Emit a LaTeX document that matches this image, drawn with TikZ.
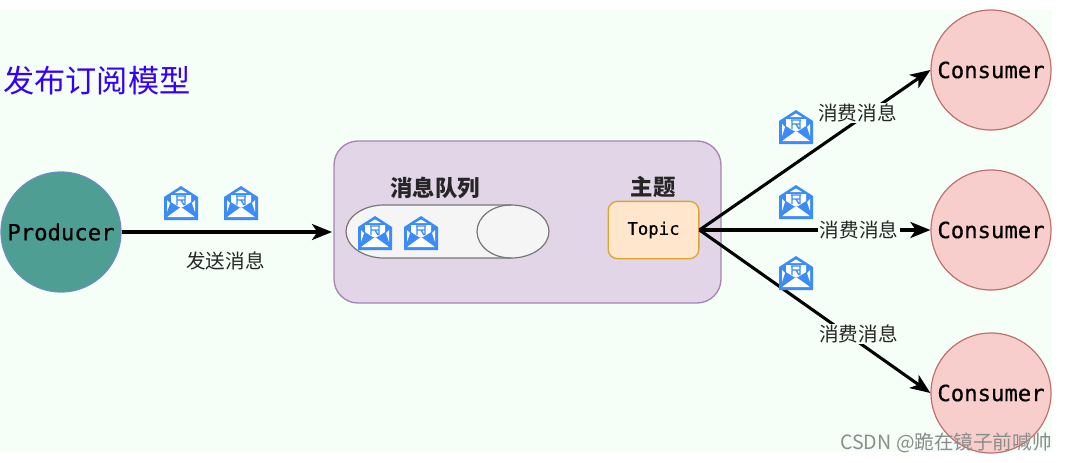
\documentclass[tikz,border=0pt]{standalone}
\usepackage{fontspec}
\setmainfont{Noto Sans CJK SC}
\newfontfamily\monof[FakeBold=0.5]{DejaVu Sans Mono}
\usetikzlibrary{arrows.meta}
\definecolor{bgc}{HTML}{F5FFF8}
\definecolor{prodfill}{HTML}{4F9E94}
\definecolor{prodline}{HTML}{6C8EBF}
\definecolor{consfill}{HTML}{F8CECC}
\definecolor{consline}{HTML}{C0716C}
\definecolor{boxfill}{HTML}{E1D5E7}
\definecolor{boxline}{HTML}{A784B5}
\definecolor{pillfill}{HTML}{F5F5F5}
\definecolor{pillline}{HTML}{777777}
\definecolor{topicfill}{HTML}{FFE6CC}
\definecolor{topicline}{HTML}{DDA52F}
\definecolor{iconc}{HTML}{3B8CF8}
\definecolor{titlec}{HTML}{3300FF}
\tikzset{
  x=0.75pt,y=-0.75pt,
  actor/.style={circle,minimum size=90pt,inner sep=0pt,line width=0.9pt,font=\monof\fontsize{16.7pt}{18pt}\selectfont},
  producer/.style={actor,fill=prodfill,draw=prodline},
  consumer/.style={actor,fill=consfill,draw=consline},
  flow/.style={line width=2.3pt,black,-{Stealth[length=15pt,width=12pt,inset=4pt]}},
  lbl/.style={font=\fontsize{14.7pt}{16pt}\selectfont,text=black!85,inner sep=1pt},
  edgelbl/.style={lbl,fill=bgc},
  head/.style={font=\fontsize{16.8pt}{18pt}\selectfont\bfseries,text=black!85,inner sep=0pt},
  msg/.pic={
    \fill[iconc] (0,-17) -- (17,-6) -- (17,17) -- (-17,17) -- (-17,-6) -- cycle;
    \fill[white] (-14,14) -- (0,4) -- (14,14) -- cycle;
    \fill[white] (-10,-8) -- (10,-8) -- (10,-1) -- (2,4) -- (-2,4) -- (-10,-1) -- cycle;
    \fill[white] (0,-13.5) -- (6,-10) -- (-6,-10) -- cycle;
    \fill[white] (-14,-3) -- (-11,0) -- (-14,9) -- cycle;
    \fill[white] (14,-3) -- (11,0) -- (14,9) -- cycle;
    \draw[iconc,line width=1pt] (-5,-7) -- (5,-7) (-4,-7) -- (-4,2) (4,-7) -- (4,2) (-4,-3) -- (3,-3) (0,-3) -- (3,2);
    \draw[iconc,line width=1.8pt] (-16,15) -- (-7,2) (16,15) -- (7,2);
  }
}
\begin{document}
\begin{tikzpicture}
\useasboundingbox (0,0) rectangle (1066,462);
\fill[white] (0,0) rectangle (1066,462);
\fill[bgc] (0,10) rectangle (1052,452);
% title
\node[anchor=west,inner sep=0pt,text=titlec,font=\fontsize{23.4pt}{25pt}\selectfont] (title) at (3,81) {发布订阅模型};
% main container
\draw[fill=boxfill,draw=boxline,line width=1pt,rounded corners=18pt] (334,141) rectangle (721,303);
\coordinate (queuewest) at (332,232);
% pill
\draw[fill=pillfill,draw=pillline,line width=0.9pt] (384,205) -- (511,205) .. controls (532,205) and (549,217) .. (549,231.5) .. controls (549,246) and (532,258) .. (511,258) -- (384,258) .. controls (363,258) and (346,246) .. (346,231.5) .. controls (346,217) and (363,205) .. (384,205) -- cycle;
\draw[draw=pillline,line width=0.9pt] (511,205) .. controls (492,205) and (477,217) .. (477,231.5) .. controls (477,246) and (492,258) .. (511,258);
\node[head] (qhead) at (435,188) {消息队列};
\node[head] (thead) at (653,187) {主题};
\node[draw=topicline,fill=topicfill,line width=1pt,rounded corners=7pt,minimum width=68pt,minimum height=43pt,inner sep=0pt,font=\monof\fontsize{13pt}{14pt}\selectfont] (topic) at (653.5,230) {Topic};
% actors
\node[producer] (prod) at (61,232) {Producer};
\node[consumer] (c1) at (991,70) {Consumer};
\node[consumer] (c2) at (991,230) {Consumer};
\node[consumer] (c3) at (991,393) {Consumer};
% connectors
\draw[flow] (prod) -- (queuewest);
\draw[flow] (topic.east) -- (c1.west);
\draw[flow] (topic.east) -- (c2.west);
\draw[flow] (topic.east) -- (c3.west);
\node[edgelbl] (l1) at (857.5,113) {消费消息};
\node[edgelbl] (l2) at (859,230) {消费消息};
\node[edgelbl] (l3) at (858.5,334) {消费消息};
\node[lbl] (send) at (225.5,261) {发送消息};
% icons
\pic at (181,203) {msg};
\pic at (241,203) {msg};
\pic at (375,233) {msg};
\pic at (421,233) {msg};
\pic at (796,127) {msg};
\pic at (796,202) {msg};
\pic at (796,273) {msg};
% watermark
\node[anchor=east,inner sep=0pt,text=black!45,font=\fontsize{14.7pt}{16pt}\selectfont] (wm) at (1052,443) {CSDN @跪在镜子前喊帅};
\end{tikzpicture}
\end{document}
